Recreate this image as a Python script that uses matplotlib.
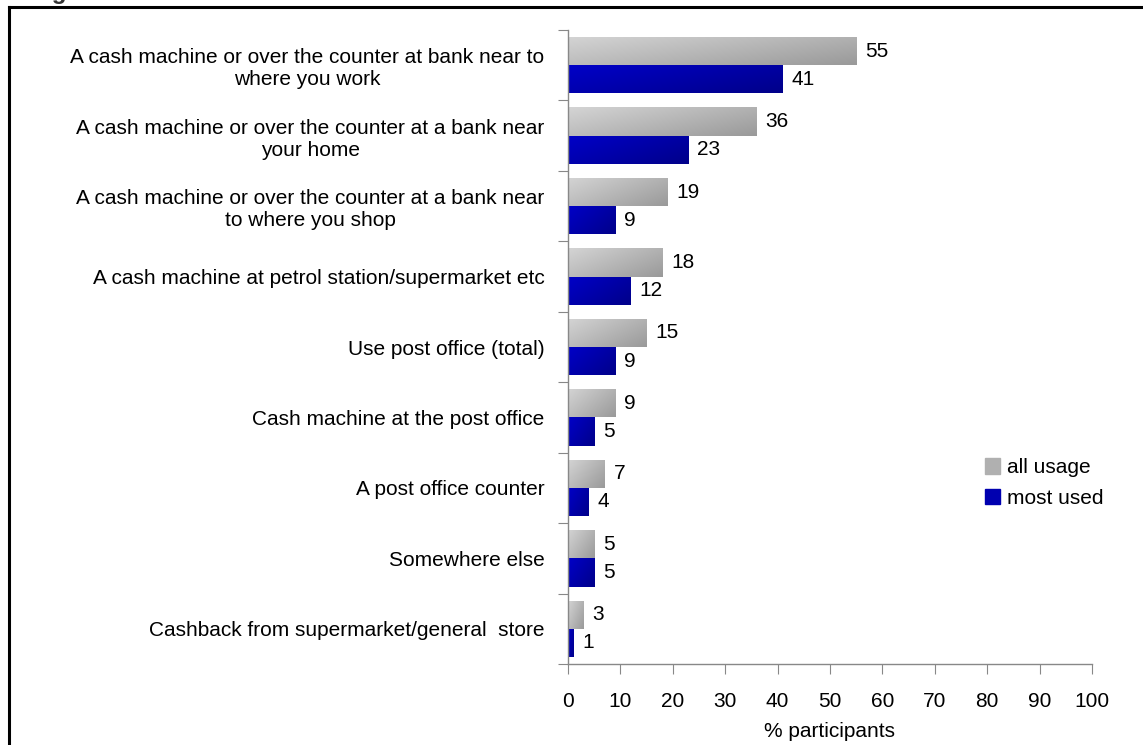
import numpy as np
import matplotlib
matplotlib.use("Agg")
import matplotlib.pyplot as plt
from matplotlib.lines import Line2D
from matplotlib.patches import Rectangle

# survey answers, top row first
categories = [
    "A cash machine or over the counter at bank near to\nwhere you work",
    "A cash machine or over the counter at a bank near\nyour home",
    "A cash machine or over the counter at a bank near\nto where you shop",
    "A cash machine at petrol station/supermarket etc",
    "Use post office (total)",
    "Cash machine at the post office",
    "A post office counter",
    "Somewhere else",
    "Cashback from supermarket/general  store",
]
all_usage = [55, 36, 19, 18, 15, 9, 7, 5, 3]
most_used = [41, 23, 9, 12, 9, 5, 4, 5, 1]
series_names = ["all usage", "most used"]
xticks = list(range(0, 101, 10))

plt.rcParams['font.family'] = ['Liberation Sans', 'DejaVu Sans']
FS = 15

fig = plt.figure(figsize=(11.43, 7.45), dpi=100)
ax = fig.add_axes([568 / 1143, 1 - 664 / 745, (1092 - 568) / 1143, (664 - 30) / 745])

n = len(categories)
pos = np.arange(n)
h = 0.4


def grad_bars(ax, ys, vals, c_light, c_dark):
    # bars filled with a diagonal gradient, clipped to the bar shape
    gx, gy = np.meshgrid(np.linspace(0, 1, 64), np.linspace(0, 1, 16))
    t = (gx * 0.6 + gy * 0.4)
    c1 = np.array(matplotlib.colors.to_rgb(c_light))
    c2 = np.array(matplotlib.colors.to_rgb(c_dark))
    img = c1[None, None, :] * (1 - t[..., None]) + c2[None, None, :] * t[..., None]
    bars = ax.barh(ys, vals, height=h, color='none', edgecolor='none')
    for b in bars:
        x0, y0 = b.get_x(), b.get_y()
        w, hh = b.get_width(), b.get_height()
        im = ax.imshow(img, extent=[x0, x0 + w, y0 + hh, y0], aspect='auto',
                       interpolation='bilinear', zorder=2)
        im.set_clip_path(b)
    return bars


grad_bars(ax, pos - h / 2, all_usage, '#d4d4d4', '#9a9a9a')
grad_bars(ax, pos + h / 2, most_used, '#0000c8', '#00008a')

for y, v in zip(pos - h / 2, all_usage):
    ax.text(v + 1.7, y, str(v), va='center', ha='left', fontsize=FS)
for y, v in zip(pos + h / 2, most_used):
    ax.text(v + 1.7, y, str(v), va='center', ha='left', fontsize=FS)

ax.set_xlim(0, 100)
ax.set_ylim(n - 0.5, -0.5)
ax.set_xticks(xticks)
ax.set_xticklabels([str(t) for t in xticks], fontsize=FS)
ax.set_xlabel("% participants", fontsize=FS, labelpad=8)

# category ticks sit on the band boundaries, labels in the band centres
ax.set_yticks(np.arange(n + 1) - 0.5)
ax.set_yticklabels([])
ax.set_yticks(pos, minor=True)
ax.set_yticklabels(categories, minor=True, fontsize=FS, ha='right',
                   multialignment='center')
ax.tick_params(axis='y', which='minor', length=0, pad=17)
ax.tick_params(axis='y', which='major', length=7, color='#888888', direction='out')
ax.tick_params(axis='x', length=7, color='#888888', direction='out', pad=13)

for s in ['top', 'right']:
    ax.spines[s].set_visible(False)
for s in ['left', 'bottom']:
    ax.spines[s].set_color('#888888')
    ax.spines[s].set_linewidth(1)

# legend
handles = [Rectangle((0, 0), 1, 1, color='#b0b0b0'), Rectangle((0, 0), 1, 1, color='#0000b0')]
fig.legend(handles, series_names, loc='center left', bbox_to_anchor=(966 / 1143, 1 - 483 / 745),
           frameon=False, fontsize=FS, handlelength=0.75, handleheight=0.75,
           handletextpad=0.3, labelspacing=0.55)

# frame around the figure and the clipped heading above it
fig.add_artist(Line2D([8.5 / 1143, 1.0], [1 - 6.5 / 745] * 2, color='black', lw=2.2))
fig.add_artist(Line2D([8.5 / 1143] * 2, [0.0, 1 - 6.5 / 745], color='black', lw=2.2))
fig.text(30 / 1143, 1 + 0.5 / 745, "Figure 3.4  Where small businesses withdraw cash for their business",
         fontsize=17.5, fontweight='bold', ha='left', va='baseline', color='#333333')

fig.savefig("out.png", dpi=100)
